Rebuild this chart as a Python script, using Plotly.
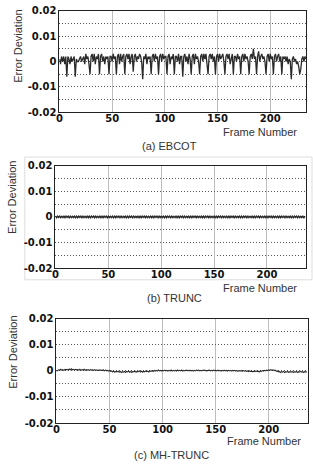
import plotly.graph_objects as go

W, H = 313, 467

x_ticks = [0, 50, 100, 150, 200]
y_ticks = [-0.02, -0.01, 0, 0.01, 0.02]
y_tick_text = ["-0.02", "-0.01", "0", "0.01", "0.02"]
captions = ["(a) EBCOT", "(b) TRUNC", "(c) MH-TRUNC"]

ebcot = [
    0.001, -0.001, 0.002, 0.000, 0.002, -0.001, 0.002, -0.006,
    0.002, 0.001, -0.001, 0.002, 0.000, 0.001, 0.002, -0.006,
    0.001, 0.000, 0.000, 0.001, 0.002, 0.000, 0.001, 0.002,
    -0.001, 0.003, 0.001, 0.002, -0.001, -0.005, 0.002, 0.003,
    0.000, 0.003, -0.001, 0.002, 0.001, 0.003, -0.005, 0.002,
    0.003, 0.000, 0.002, -0.001, 0.002, 0.001, 0.002, -0.005,
    0.002, 0.002, 0.000, 0.003, 0.001, 0.002, -0.005, 0.002,
    0.003, -0.001, 0.003, 0.000, 0.002, 0.003, -0.005, 0.002,
    0.003, 0.001, 0.003, -0.001, 0.002, 0.003, -0.004, 0.002,
    0.003, 0.000, 0.002, 0.001, 0.003, 0.002, 0.000, -0.007,
    0.002, 0.001, 0.003, -0.001, 0.002, 0.001, 0.002, -0.005,
    0.002, 0.003, 0.000, 0.003, 0.001, 0.002, -0.005, 0.002,
    0.003, 0.000, 0.003, 0.001, 0.002, 0.002, -0.005, 0.002,
    0.003, -0.001, 0.002, 0.001, 0.003, -0.005, 0.002, 0.002,
    0.000, 0.003, -0.001, 0.002, 0.002, -0.006, 0.002, 0.003,
    0.000, 0.002, -0.001, 0.003, 0.001, -0.005, 0.002, 0.003,
    -0.001, 0.003, 0.001, 0.002, 0.000, -0.005, 0.002, 0.003,
    0.000, 0.003, 0.001, 0.003, -0.001, -0.005, 0.002, 0.003,
    0.001, 0.003, 0.000, 0.002, -0.005, 0.002, 0.003, 0.000,
    0.003, 0.001, 0.002, 0.003, 0.000, -0.005, 0.002, 0.003,
    0.001, 0.003, -0.001, 0.002, 0.003, -0.005, 0.002, 0.002,
    0.000, 0.003, 0.001, 0.002, -0.005, 0.002, 0.003, 0.000,
    0.003, 0.001, 0.002, 0.000, -0.005, 0.002, 0.003, 0.001,
    0.005, 0.001, 0.002, -0.005, 0.002, 0.004, 0.000, 0.002,
    0.003, 0.001, 0.002, 0.000, -0.005, 0.002, 0.003, 0.000,
    0.003, 0.001, 0.002, -0.005, 0.002, 0.003, 0.000, 0.002,
    0.003, 0.000, 0.002, -0.005, 0.002, 0.001, 0.002, 0.000,
    0.002, -0.001, 0.001, 0.000, -0.007, 0.001, 0.002, 0.000,
    0.001, -0.001, 0.000, -0.002, -0.005, -0.003, 0.001, 0.002,
    0.000, 0.002, 0.001,
]

trunc = [
    0.0003, -0.0003, 0.0003, -0.0002, 0.0003, -0.0003, 0.0002, -0.0003, 0.0003, -0.0003,
    0.0003, -0.0002, 0.0003, -0.0003, 0.0003, -0.0003, 0.0002, -0.0003, 0.0003, -0.0003,
    0.0003, -0.0003, 0.0003, -0.0002, 0.0003, -0.0003, 0.0003, -0.0003, 0.0002, -0.0003,
    0.0003, -0.0003, 0.0003, -0.0003, 0.0003, -0.0002, 0.0003, -0.0003, 0.0003, -0.0003,
    0.0002, -0.0003, 0.0003, -0.0003, 0.0003, -0.0003, 0.0003, -0.0002, 0.0003, -0.0003,
    0.0003, -0.0003, 0.0002, -0.0003, 0.0003, -0.0003, 0.0003, -0.0003, 0.0003, -0.0002,
    0.0003, -0.0003, 0.0003, -0.0003, 0.0002, -0.0003, 0.0003, -0.0003, 0.0003, -0.0003,
    0.0003, -0.0002, 0.0003, -0.0003, 0.0003, -0.0003, 0.0002, -0.0003, 0.0003, -0.0003,
    0.0003, -0.0003, 0.0003, -0.0002, 0.0003, -0.0003, 0.0003, -0.0003, 0.0002, -0.0003,
    0.0003, -0.0003, 0.0003, -0.0003, 0.0003, -0.0002, 0.0003, -0.0003, 0.0003, -0.0003,
    0.0002, -0.0003, 0.0003, -0.0003, 0.0003, -0.0003, 0.0003, -0.0002, 0.0003, -0.0003,
    0.0003, -0.0003, 0.0002, -0.0003, 0.0003, -0.0003, 0.0003, -0.0003, 0.0003, -0.0002,
    0.0003, -0.0003, 0.0003, -0.0003, 0.0002, -0.0003, 0.0003, -0.0003, 0.0003, -0.0003,
    0.0003, -0.0002, 0.0003, -0.0003, 0.0003, -0.0003, 0.0002, -0.0003, 0.0003, -0.0003,
    0.0003, -0.0003, 0.0003, -0.0002, 0.0003, -0.0003, 0.0003, -0.0003, 0.0002, -0.0003,
    0.0003, -0.0003, 0.0003, -0.0003, 0.0003, -0.0002, 0.0003, -0.0003, 0.0003, -0.0003,
    0.0002, -0.0003, 0.0003, -0.0003, 0.0003, -0.0003, 0.0003, -0.0002, 0.0003, -0.0003,
    0.0003, -0.0003, 0.0002, -0.0003, 0.0003, -0.0003, 0.0003, -0.0003, 0.0003, -0.0002,
    0.0003, -0.0003, 0.0003, -0.0003, 0.0002, -0.0003, 0.0003, -0.0003, 0.0003, -0.0003,
    0.0003, -0.0002, 0.0003, -0.0003, 0.0003, -0.0003, 0.0002, -0.0003, 0.0003, -0.0003,
    0.0003, -0.0003, 0.0003, -0.0002, 0.0003, -0.0003, 0.0003, -0.0003, 0.0002, -0.0003,
    0.0003, -0.0003, 0.0003, -0.0003, 0.0003, -0.0002, 0.0003, -0.0003, 0.0003, -0.0003,
    0.0002, -0.0003, 0.0003, -0.0003, 0.0003, -0.0003, 0.0003, -0.0002, 0.0003, -0.0003,
    0.0003, -0.0003, 0.0002, -0.0003, 0.0003, -0.0003, 0.0003,
]

mh_trunc = [
    -0.0002, 0.0001, 0.0004, 0.0002, 0.0006, 0.0003, 0.0005, 0.0002, 0.0006, 0.0004,
    0.0006, 0.0003, 0.0007, 0.0004, 0.0008, 0.0004, 0.0006, 0.0003, 0.0006, 0.0004,
    0.0005, 0.0003, 0.0006, 0.0002, 0.0005, 0.0003, 0.0006, 0.0002, 0.0005, 0.0003,
    0.0004, 0.0002, 0.0005, 0.0003, 0.0004, 0.0002, 0.0005, 0.0002, 0.0004, 0.0001,
    0.0004, 0.0002, 0.0003, 0.0001, 0.0004, 0.0000, 0.0003, 0.0001, 0.0002, -0.0001,
    0.0002, -0.0002, 0.0000, -0.0004, -0.0001, -0.0005, -0.0002, -0.0004, -0.0001, -0.0005,
    -0.0002, -0.0006, -0.0003, -0.0005, -0.0002, -0.0006, -0.0002, -0.0004, -0.0001, -0.0005,
    -0.0002, -0.0006, -0.0002, -0.0004, -0.0001, -0.0005, -0.0002, -0.0003, 0.0000, -0.0004,
    -0.0001, -0.0005, -0.0002, -0.0004, 0.0000, -0.0003, -0.0001, -0.0004, 0.0000, -0.0002,
    0.0001, -0.0002, 0.0002, -0.0001, 0.0002, -0.0001, 0.0003, 0.0000, 0.0002, -0.0001,
    0.0002, 0.0000, 0.0003, 0.0000, 0.0002, -0.0001, 0.0002, 0.0000, 0.0003, -0.0001,
    0.0002, 0.0000, 0.0002, -0.0001, 0.0003, 0.0000, 0.0002, 0.0000, 0.0003, -0.0001,
    0.0002, 0.0000, 0.0003, 0.0001, 0.0002, 0.0000, 0.0003, 0.0000, 0.0002, -0.0001,
    0.0002, 0.0000, 0.0003, 0.0001, 0.0003, 0.0000, 0.0002, 0.0000, 0.0003, 0.0001,
    0.0003, 0.0000, 0.0002, 0.0001, 0.0003, 0.0000, 0.0002, 0.0000, 0.0003, 0.0001,
    0.0002, 0.0000, 0.0003, 0.0000, 0.0002, -0.0001, 0.0002, 0.0000, 0.0003, 0.0000,
    0.0002, -0.0001, 0.0002, 0.0000, 0.0002, -0.0001, 0.0002, 0.0000, 0.0002, -0.0001,
    0.0001, -0.0002, 0.0001, -0.0001, 0.0002, -0.0002, 0.0001, -0.0001, 0.0001, -0.0002,
    0.0000, -0.0003, 0.0000, -0.0002, -0.0001, -0.0004, -0.0001, -0.0003, 0.0000, -0.0003,
    -0.0001, -0.0004, 0.0000, -0.0002, 0.0001, -0.0001, 0.0002, 0.0000, 0.0003, 0.0001,
    0.0004, 0.0002, 0.0005, 0.0002, 0.0004, 0.0001, 0.0003, -0.0001, 0.0000, -0.0004,
    -0.0002, -0.0006, -0.0003, -0.0005, -0.0002, -0.0006, -0.0003, -0.0005, -0.0002, -0.0006,
    -0.0003, -0.0005, -0.0002, -0.0006, -0.0003, -0.0005, -0.0002, -0.0006, -0.0003, -0.0004,
    -0.0002, -0.0005, -0.0003, -0.0006, -0.0002, -0.0005, -0.0003,
]

series = [ebcot, trunc, mh_trunc]


def px(x):
    return x / W


def py(y):
    return 1 - y / H


# plot-area boxes in pixels: (left, right, top, bottom)
boxes = [(57, 306, 5, 109), (53, 306, 164, 269), (54, 308, 321, 428)]
x_max = [234, 237, 237]
ylab_pos = [(15, 41), (9, 196), (10, 355)]
xlab_pos = [(259, 129), (259, 289), (264, 446)]
cap_pos = [(168, 144), (173, 300), (170, 461)]
line_w = [1.3, 1.4, 1.1]

fig = go.Figure()
annotations = []
for i, (vals, box) in enumerate(zip(series, boxes)):
    sfx = "" if i == 0 else str(i + 1)
    fig.add_trace(go.Scatter(
        x=list(range(len(vals))), y=vals, mode="lines",
        line=dict(color="#2a2a2a", width=line_w[i]),
        xaxis="x" + sfx, yaxis="y" + sfx, showlegend=False,
        hoverinfo="skip",
    ))
    l, r, t, b = box
    fig.layout["xaxis" + sfx] = dict(
        domain=[px(l), px(r)], anchor="y" + sfx, range=[0, x_max[i]],
        tickvals=x_ticks, ticktext=[str(v) for v in x_ticks],
        showgrid=True, gridcolor="#bdbdbd", gridwidth=1,
        showline=True, linecolor="#222", linewidth=1, mirror=True,
        zeroline=False, ticks="", ticklabelstandoff=-3,
        tickfont=dict(family="DejaVu Sans", size=10, color="#111", weight="bold"),
    )
    fig.layout["yaxis" + sfx] = dict(
        domain=[py(b), py(t)], anchor="x" + sfx, range=[-0.02, 0.02],
        tickvals=y_ticks, ticktext=y_tick_text,
        showgrid=True, gridcolor="#555", griddash="1px,2px", gridwidth=1,
        minor=dict(dtick=0.005, showgrid=True, gridcolor="#555",
                   griddash="1px,2px", gridwidth=1),
        showline=True, linecolor="#222", linewidth=1, mirror=True,
        zeroline=False, ticks="",
        tickfont=dict(family="DejaVu Sans", size=10, color="#111", weight="bold"),
    )
    annotations.append(dict(
        text="Error Deviation", textangle=-90, xref="paper", yref="paper",
        x=px(ylab_pos[i][0]), y=py(ylab_pos[i][1]), showarrow=False,
        xanchor="center", yanchor="middle",
        font=dict(family="Liberation Sans Narrow, Liberation Sans", size=11, color="#333"),
    ))
    annotations.append(dict(
        text="Frame Number", xref="paper", yref="paper",
        x=px(xlab_pos[i][0]), y=py(xlab_pos[i][1]), showarrow=False,
        xanchor="center", yanchor="middle",
        font=dict(family="Liberation Sans", size=11, color="#333"),
    ))
    annotations.append(dict(
        text=captions[i], xref="paper", yref="paper",
        x=px(cap_pos[i][0]), y=py(cap_pos[i][1]), showarrow=False,
        xanchor="center", yanchor="middle",
        font=dict(family="Liberation Sans", size=11, color="#333"),
    ))

fig.update_layout(
    width=W, height=H, margin=dict(l=0, r=0, t=0, b=0),
    paper_bgcolor="white", plot_bgcolor="white",
    annotations=annotations,
    shapes=[dict(type="rect", xref="paper", yref="paper",
                 x0=px(22), x1=px(312), y0=py(281), y1=py(155),
                 line=dict(color="#dddddd", width=1), layer="below")],
)

fig.write_html("out.html")
